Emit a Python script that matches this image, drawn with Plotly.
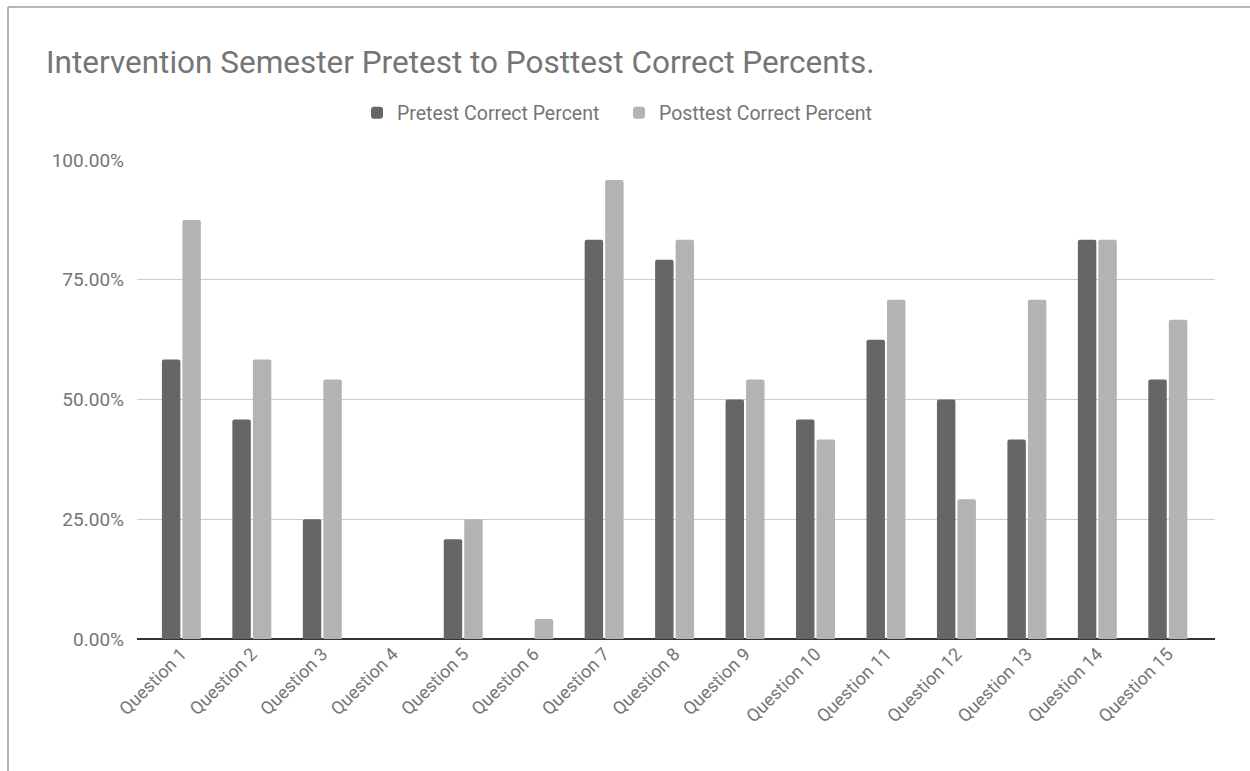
import plotly.graph_objects as go

# Question labels and correct-answer shares (fractions of 1)
questions = [f"Question {i}" for i in range(1, 16)]
pretest = [0.5833, 0.4583, 0.25, 0.0, 0.2083, 0.0, 0.8333, 0.7917,
           0.50, 0.4583, 0.625, 0.50, 0.4167, 0.8333, 0.5417]
posttest = [0.875, 0.5833, 0.5417, 0.0, 0.25, 0.0417, 0.9583, 0.8333,
            0.5417, 0.4167, 0.7083, 0.2917, 0.7083, 0.8333, 0.6667]
y_ticks = [0, 0.25, 0.5, 0.75, 1.0]

W, H = 1250, 771
L, R, T, B = 137, 35, 160, 132
PW, PH = W - L - R, H - T - B

def px_x(p):
    return (p - L) / PW

def px_y(p):
    return (H - B - p) / PH

FONT = "Roboto"
GREY_TXT = "#757575"

fig = go.Figure()
fig.add_trace(go.Bar(
    x=questions, y=pretest, name="Pretest Correct Percent",
    marker=dict(color="#666666", cornerradius=2, line=dict(width=0)),
))
fig.add_trace(go.Bar(
    x=questions, y=posttest, name="Posttest Correct Percent",
    marker=dict(color="#b3b3b3", cornerradius=2, line=dict(width=0)),
))

fig.update_layout(
    width=W, height=H,
    margin=dict(l=L, r=R, t=T, b=B, autoexpand=False),
    paper_bgcolor="white", plot_bgcolor="white",
    font=dict(family=FONT, color=GREY_TXT),
    barmode="group", bargap=0.418, bargroupgap=0.1,
    title=dict(
        text="Intervention Semester Pretest to Posttest Correct Percents.",
        font=dict(family=FONT, size=31.5, color=GREY_TXT),
        xref="container", yref="container",
        x=46 / W, xanchor="left", y=1 - 62 / H, yanchor="middle",
    ),
    legend=dict(
        orientation="h", x=px_x(357), xanchor="left",
        y=px_y(113), yanchor="middle",
        font=dict(family=FONT, size=19.5, color=GREY_TXT),
        entrywidth=217, entrywidthmode="pixels",
        bgcolor="rgba(0,0,0,0)",
    ),
    xaxis=dict(
        range=[-0.63, 14.67], tickangle=-45,
        tickfont=dict(family=FONT, size=18, color=GREY_TXT),
        showgrid=False, showline=False, ticks="",
    ),
    yaxis=dict(
        range=[0, 1.0], tickvals=y_ticks, tickformat=".2%",
        tickfont=dict(family=FONT, size=19, color=GREY_TXT),
        showgrid=True, gridcolor="#cccccc", gridwidth=1,
        zeroline=True, zerolinecolor="#333333", zerolinewidth=1.5,
        showline=False, ticks="", ticklabelstandoff=12,
    ),
    shapes=[
        # outer frame (top and left edges)
        dict(type="line", xref="paper", yref="paper",
             x0=px_x(8), x1=px_x(W), y0=px_y(7), y1=px_y(7),
             line=dict(color="#9e9e9e", width=1.5)),
        dict(type="line", xref="paper", yref="paper",
             x0=px_x(8), x1=px_x(8), y0=px_y(7), y1=px_y(H),
             line=dict(color="#9e9e9e", width=1.5)),
    ],
)

fig.write_html("out.html")
